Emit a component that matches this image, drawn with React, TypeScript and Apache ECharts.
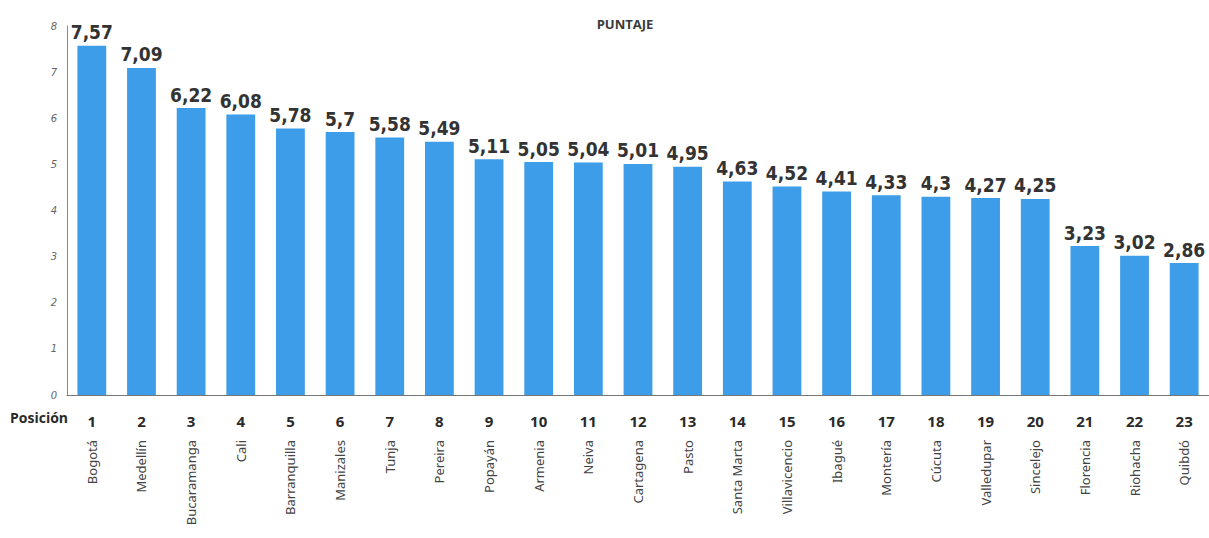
import React, { useEffect, useRef } from "react";
import * as echarts from "echarts";

const cities = ["Bogotá", "Medellín", "Bucaramanga", "Cali", "Barranquilla", "Manizales", "Tunja", "Pereira", "Popayán", "Armenia", "Neiva", "Cartagena", "Pasto", "Santa Marta", "Villavicencio", "Ibagué", "Montería", "Cúcuta", "Valledupar", "Sincelejo", "Florencia", "Riohacha", "Quibdó"];
const positions = ["1", "2", "3", "4", "5", "6", "7", "8", "9", "10", "11", "12", "13", "14", "15", "16", "17", "18", "19", "20", "21", "22", "23"];
const scores = [7.57, 7.09, 6.22, 6.08, 5.78, 5.7, 5.58, 5.49, 5.11, 5.05, 5.04, 5.01, 4.95, 4.63, 4.52, 4.41, 4.33, 4.3, 4.27, 4.25, 3.23, 3.02, 2.86];
const yTicks = [0, 1, 2, 3, 4, 5, 6, 7, 8];

export default function App() {
  const ref = useRef<HTMLDivElement>(null);
  useEffect(() => {
    const chart = echarts.init(ref.current!, null, { renderer: "svg" });
    chart.setOption({
      animation: false,
      backgroundColor: "#ffffff",
      title: {
        text: "PUNTAJE",
        left: 620,
        top: 12,
        textAlign: "center",
        textStyle: { fontFamily: "Open Sans", fontWeight: "bold", fontSize: 13, color: "#3a3a3a" },
      },
      graphic: [
        {
          type: "text",
          left: 10,
          top: 410,
          style: { text: "Posición", fontFamily: "Open Sans", fontWeight: "bold", fontSize: 14, fill: "#2a2a2a" },
        },
      ],
      grid: { left: 67, right: -6, top: 26, bottom: 143, containLabel: false },
      xAxis: [
        {
          type: "category",
          data: positions,
          position: "bottom",
          axisLine: { lineStyle: { color: "#777", width: 1 } },
          axisTick: { show: false },
          axisLabel: { margin: 18, fontFamily: "Open Sans", fontWeight: "bold", fontSize: 15, color: "#2a2a2a" },
        },
        {
          type: "category",
          data: cities,
          position: "bottom",
          axisLine: { show: false },
          axisTick: { show: false },
          axisLabel: { rotate: 90, margin: 45, interval: 0, fontFamily: "Noto Sans", fontSize: 13, color: "#444" },
        },
      ],
      yAxis: {
        type: "value",
        min: yTicks[0],
        max: yTicks[yTicks.length - 1],
        interval: 1,
        axisLine: { show: true, lineStyle: { color: "#888", width: 1 } },
        axisTick: { show: false },
        splitLine: { show: false },
        axisLabel: { margin: 10, fontStyle: "italic", fontSize: 10, color: "#666", fontFamily: "DejaVu Sans" },
      },
      series: [
        {
          type: "bar",
          data: scores,
          barWidth: "58%",
          itemStyle: { color: "#3d9de8" },
          label: {
            show: true,
            position: "top",
            distance: 4,
            formatter: (p: any) => String(p.value).replace(".", ","),
            fontFamily: "'DejaVu Sans Condensed', Roboto, sans-serif",
            fontWeight: "bold",
            fontSize: 19,
            color: "#333",
          },
        },
      ],
    });
    return () => chart.dispose();
  }, []);
  return (
    <div
      ref={ref}
      style={{ position: "absolute", left: 0, top: 0, width: 1209, height: 538 }}
    />
  );
}
